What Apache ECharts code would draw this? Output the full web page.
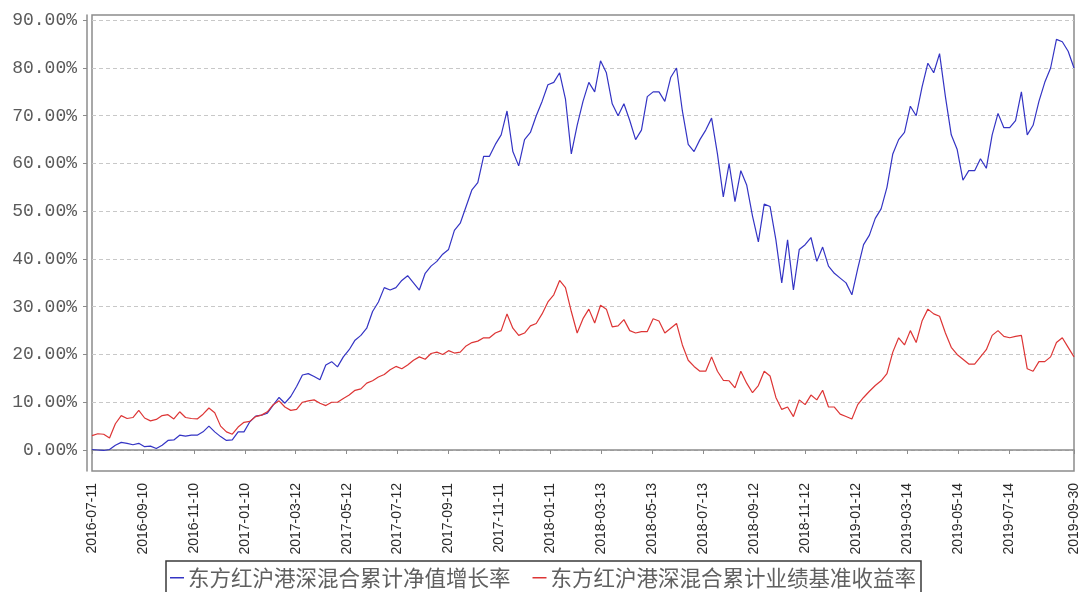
<!DOCTYPE html>
<html>
<head>
<meta charset="utf-8">
<script src="https://cdn.jsdelivr.net/npm/echarts@6/dist/echarts.min.js"></script>
<style>
html,body{margin:0;padding:0;background:#fff;}
#chart{width:1081px;height:592px;}
</style>
</head>
<body>
<div id="chart"></div>
<script>
// ---------- data ----------
const seriesNames = ['东方红沪港深混合累计净值增长率', '东方红沪港深混合累计业绩基准收益率'];

const tickLabels = ['2016-07-11','2016-09-10','2016-11-10','2017-01-10','2017-03-12','2017-05-12','2017-07-12','2017-09-11','2017-11-11','2018-01-11','2018-03-13','2018-05-13','2018-07-13','2018-09-12','2018-11-12','2019-01-12','2019-03-14','2019-05-14','2019-07-14','2019-09-30'];

const yTicks = [0, 10, 20, 30, 40, 50, 60, 70, 80, 90];

const sampleDates = [
'2016-07-11','2016-07-18','2016-07-25','2016-08-01','2016-08-08','2016-08-15','2016-08-22','2016-08-29','2016-09-05','2016-09-12','2016-09-19','2016-09-26','2016-10-03','2016-10-10','2016-10-17','2016-10-24','2016-10-31','2016-11-07','2016-11-14','2016-11-21','2016-11-28','2016-12-05','2016-12-12','2016-12-19','2016-12-26',
'2017-01-02','2017-01-09','2017-01-16','2017-01-23','2017-01-30','2017-02-06','2017-02-13','2017-02-20','2017-02-27','2017-03-06','2017-03-13','2017-03-20','2017-03-27','2017-04-03','2017-04-10','2017-04-17','2017-04-24','2017-05-01','2017-05-08','2017-05-15','2017-05-22','2017-05-29','2017-06-05','2017-06-12','2017-06-19','2017-06-26','2017-07-03','2017-07-10','2017-07-17','2017-07-24','2017-07-31','2017-08-07','2017-08-14','2017-08-21','2017-08-28','2017-09-04','2017-09-11','2017-09-18','2017-09-25','2017-10-02','2017-10-09','2017-10-16','2017-10-23','2017-10-30','2017-11-06','2017-11-13','2017-11-20','2017-11-27','2017-12-04','2017-12-11','2017-12-18','2017-12-25',
'2018-01-01','2018-01-08','2018-01-15','2018-01-22','2018-01-29','2018-02-05','2018-02-12','2018-02-19','2018-02-26','2018-03-05','2018-03-12','2018-03-19','2018-03-26','2018-04-02','2018-04-09','2018-04-16','2018-04-23','2018-04-30','2018-05-07','2018-05-14','2018-05-21','2018-05-28','2018-06-04','2018-06-11','2018-06-18','2018-06-25','2018-07-02','2018-07-09','2018-07-16','2018-07-23','2018-07-30','2018-08-06','2018-08-13','2018-08-20','2018-08-27','2018-09-03','2018-09-10','2018-09-17','2018-09-24','2018-10-01','2018-10-08','2018-10-15','2018-10-22','2018-10-29','2018-11-05','2018-11-12','2018-11-19','2018-11-26','2018-12-03','2018-12-10','2018-12-17','2018-12-24','2018-12-31',
'2019-01-07','2019-01-14','2019-01-21','2019-01-28','2019-02-04','2019-02-11','2019-02-18','2019-02-25','2019-03-04','2019-03-11','2019-03-18','2019-03-25','2019-04-01','2019-04-08','2019-04-15','2019-04-22','2019-04-29','2019-05-06','2019-05-13','2019-05-20','2019-05-27','2019-06-03','2019-06-10','2019-06-17','2019-06-24','2019-07-01','2019-07-08','2019-07-15','2019-07-22','2019-07-29','2019-08-05','2019-08-12','2019-08-19','2019-08-26','2019-09-02','2019-09-09','2019-09-16','2019-09-23','2019-09-30'
];

const navGrowth = [
0.1,0,-0.1,0.1,1.0,1.6,1.4,1.1,1.4,0.7,0.8,0.3,1.0,2.0,2.1,3.1,2.9,3.1,3.1,3.8,5.0,3.8,2.8,2.0,2.1,
3.8,3.8,5.9,7.1,7.3,7.7,9.4,11.0,9.8,11.2,13.3,15.7,16.0,15.4,14.7,17.8,18.5,17.4,19.5,21.0,23.0,24.0,25.5,29.0,31.0,34.0,33.5,34.0,35.5,36.5,35.0,33.5,37.0,38.5,39.5,41.0,42.0,46.0,47.5,51.0,54.5,56.0,61.5,61.5,64.0,66.0,71.0,62.5,59.5,65.0,66.5,70.0,
73.0,76.5,77.0,79.0,73.5,62.0,68.0,73.0,77.0,75.0,81.5,79.0,72.5,70.0,72.5,69.0,65.0,67.0,74.0,75.0,75.0,73.0,78.0,80.0,71.0,64.0,62.5,65.0,67.0,69.5,62.0,53.0,60.0,52.0,58.5,55.5,49.0,43.6,51.5,51.0,44.0,35.0,44.0,33.5,42.0,43.0,44.5,39.5,42.5,38.5,37.0,
36.0,35.0,32.5,38.0,43.0,45.0,48.5,50.5,55.0,62.0,65.0,66.5,72.0,70.0,76.0,81.0,79.0,83.0,74.0,66.0,63.0,56.5,58.5,58.5,61.0,59.0,66.0,70.5,67.5,67.5,69.0,75.0,66.0,68.0,73.0,77.0,80.0,86.0,85.5,83.5,80.0
];

const benchmark = [
3.0,3.4,3.3,2.5,5.5,7.2,6.6,6.8,8.3,6.7,6.1,6.4,7.2,7.4,6.5,8.0,6.8,6.6,6.5,7.5,8.8,7.8,5.0,3.8,3.3,
4.8,5.8,6.0,7.0,7.3,8.0,9.5,10.3,9.0,8.3,8.5,10.0,10.3,10.5,9.8,9.3,10.0,10.0,10.8,11.5,12.5,12.8,14.0,14.5,15.3,15.8,16.8,17.5,17.0,17.8,18.8,19.5,19.0,20.2,20.5,20.0,20.8,20.3,20.5,21.8,22.5,22.8,23.5,23.5,24.5,25.0,28.5,25.5,24.0,24.5,26.0,26.5,
28.5,31.0,32.5,35.5,34.0,29.0,24.5,27.5,29.5,26.6,30.3,29.5,25.8,26.0,27.3,25.0,24.5,24.8,24.8,27.5,27.0,24.5,25.5,26.5,22.0,18.8,17.5,16.5,16.5,19.5,16.5,14.6,14.5,13.0,16.5,14.0,12.0,13.5,16.5,15.5,11.0,8.5,9.0,7.0,10.5,9.5,11.5,10.5,12.5,9.0,9.0,
7.5,7.0,6.5,9.5,11.0,12.3,13.5,14.5,16.0,20.5,23.5,22.0,25.0,22.5,27.0,29.5,28.5,28.0,24.5,21.5,20.0,19.0,18.0,18.0,19.5,21.0,24.0,25.0,23.8,23.5,23.8,24.0,17.0,16.5,18.5,18.5,19.5,22.5,23.5,21.5,19.5
];

// ---------- build axis categories (every calendar day) ----------
function parseD(s){ const p = s.split('-').map(Number); return Date.UTC(p[0], p[1]-1, p[2]); }
const startT = parseD(tickLabels[0]);
const endT = parseD(tickLabels[tickLabels.length-1]);
const days = [];
for (let t = startT; t <= endT; t += 86400000) {
  days.push(new Date(t).toISOString().slice(0,10));
}
const tickSet = new Set(tickLabels);
const showTick = function (idx, val) { return tickSet.has(val); };

const pairs = (vals) => sampleDates.map((d, i) => [d, vals[i]]);

const chart = echarts.init(document.getElementById('chart'), null, {renderer: 'canvas'});
chart.setOption({
  animation: false,
  backgroundColor: '#ffffff',
  grid: {
    left: 92, right: 6, top: 15, bottom: 121,
    show: true, borderColor: '#8c8c8c', borderWidth: 1.5, backgroundColor: 'transparent'
  },
  legend: {
    data: seriesNames,
    left: 166, top: 561,
    padding: [6, 5, 8, 4],
    itemGap: 22,
    itemWidth: 14, itemHeight: 1.5,
    icon: 'rect',
    borderColor: '#3a3a3a', borderWidth: 1.5,
    textStyle: { fontFamily: 'Noto Sans CJK SC', fontSize: 21.5, color: '#606060', padding: [0, 0, 0, -1] }
  },
  xAxis: {
    type: 'category',
    data: days,
    boundaryGap: false,
    offset: 5,
    axisLine: { show: true, lineStyle: { color: '#8c8c8c', width: 1.5 } },
    axisTick: { show: true, interval: showTick, length: 4, lineStyle: { color: '#8c8c8c' } },
    axisLabel: {
      interval: showTick, rotate: 90, margin: 7,
      fontFamily: 'Liberation Sans', fontSize: 14, color: '#2a2a2a'
    },
    splitLine: { show: false }
  },
  yAxis: {
    type: 'value',
    min: -4.4, max: 91.1, splitNumber: 10,
    offset: 5,
    axisLine: { show: true, lineStyle: { color: '#8c8c8c', width: 1.5 } },
    axisTick: { show: true, length: 4, customValues: yTicks, lineStyle: { color: '#8c8c8c' } },
    axisLabel: {
      customValues: yTicks,
      margin: 10,
      fontFamily: 'Liberation Mono', fontSize: 18, color: '#5a5a5a',
      formatter: function (v) {
        return Math.abs(v / 10 - Math.round(v / 10)) < 1e-6 ? v.toFixed(2) + '%' : '';
      }
    },
    splitLine: { show: true, lineStyle: { type: [4, 3], color: '#c8c8c8', width: 1 } }
  },
  series: [
    {
      name: seriesNames[0], type: 'line', data: pairs(navGrowth),
      showSymbol: false, symbol: 'none',
      lineStyle: { color: '#3434c4', width: 1.2 }, itemStyle: { color: '#3434c4' }
    },
    {
      name: seriesNames[1], type: 'line', data: pairs(benchmark),
      showSymbol: false, symbol: 'none',
      lineStyle: { color: '#dd3535', width: 1.2 }, itemStyle: { color: '#dd3535' }
    }
  ]
});
</script>
</body>
</html>
